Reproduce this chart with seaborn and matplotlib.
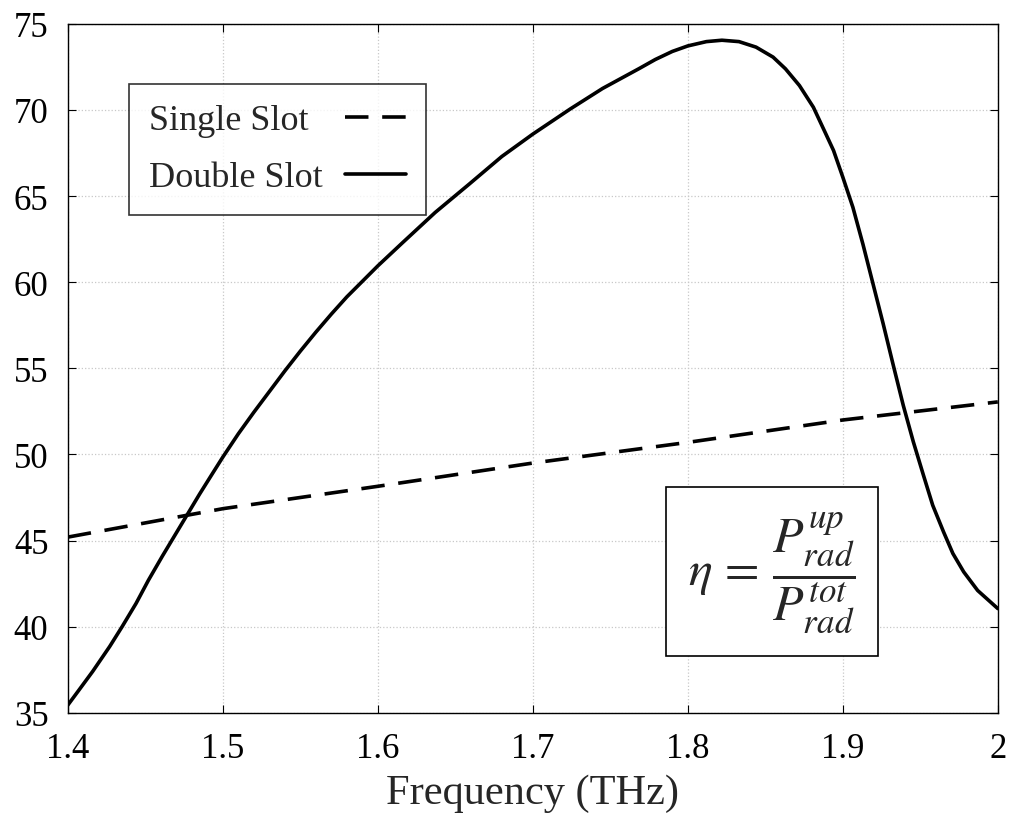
import numpy as np
import pandas as pd
import seaborn as sns
import matplotlib
matplotlib.use("Agg")
import matplotlib.pyplot as plt

# values
single_freq = [1.40, 1.50, 1.60, 1.70, 1.80, 1.90, 2.00]
single_eff = [45.2, 46.85, 48.15, 49.5, 50.7, 52.0, 53.05]

double_freq = [1.400, 1.407, 1.416, 1.427, 1.435, 1.444, 1.452, 1.461, 1.470,
               1.477, 1.485, 1.493, 1.500, 1.510, 1.520, 1.530, 1.540, 1.550,
               1.560, 1.570, 1.580, 1.590, 1.600, 1.616, 1.637, 1.659, 1.680,
               1.700, 1.724, 1.745, 1.7685, 1.779, 1.790, 1.800, 1.812, 1.822,
               1.833, 1.844, 1.855, 1.863, 1.872, 1.881, 1.889, 1.894, 1.900,
               1.9065, 1.913, 1.9195, 1.926, 1.9325, 1.939, 1.9455, 1.952,
               1.958, 1.965, 1.971, 1.978, 1.987, 2.000]
double_eff = [35.45, 36.3, 37.4, 38.85, 40.0, 41.35, 42.7, 44.1, 45.45,
              46.5, 47.7, 48.85, 49.85, 51.2, 52.45, 53.65, 54.85, 56.0,
              57.1, 58.15, 59.15, 60.05, 60.95, 62.3, 64.05, 65.7, 67.3,
              68.6, 70.05, 71.25, 72.4, 72.93, 73.4, 73.72, 73.97, 74.05,
              73.97, 73.65, 73.07, 72.39, 71.42, 70.16, 68.62, 67.65, 66.1,
              64.35, 62.2, 59.9, 57.6, 55.2, 52.85, 50.73, 48.8,
              47.05, 45.5, 44.25, 43.18, 42.1, 41.05]

x_ticks = [1.4, 1.5, 1.6, 1.7, 1.8, 1.9, 2.0]
x_tick_labels = ["1.4", "1.5", "1.6", "1.7", "1.8", "1.9", "2"]
y_ticks = [35, 40, 45, 50, 55, 60, 65, 70, 75]

single = pd.DataFrame({"freq": single_freq, "eff": single_eff})
double = pd.DataFrame({"freq": double_freq, "eff": double_eff})

sns.set_style("ticks")
plt.rcParams["font.family"] = ["Liberation Serif", "DejaVu Serif"]
plt.rcParams["mathtext.fontset"] = "stix"

fig = plt.figure(figsize=(10.13, 8.29), dpi=100)
ax = fig.add_axes([0.067, 0.139, 0.918, 0.831])

sns.lineplot(data=single, x="freq", y="eff", ax=ax, color="black", lw=2.6,
             label="Single Slot")
ax.lines[-1].set_dashes((6.5, 3.8))
sns.lineplot(data=double, x="freq", y="eff", ax=ax, color="black", lw=2.6,
             label="Double Slot")

ax.set_xlim(1.4, 2.0)
ax.set_ylim(35, 75)
ax.set_xticks(x_ticks)
ax.set_xticklabels(x_tick_labels)
ax.set_yticks(y_ticks)
ax.tick_params(direction="in", top=True, right=True, length=6, width=0.8,
               labelsize=25, colors="black")
ax.tick_params(axis="x", pad=14)
ax.tick_params(axis="y", pad=14)
ax.grid(True, color="#c8c8c8", linestyle=":", linewidth=0.9)
for s in ax.spines.values():
    s.set_linewidth(1.0)
    s.set_color("black")

ax.set_xlabel("Frequency (THz)", fontsize=30.5, labelpad=6)
ax.set_ylabel("")

leg = ax.legend(loc="upper left", bbox_to_anchor=(0.0656, 0.913), markerfirst=False,
                fontsize=26, frameon=True, fancybox=False, handlelength=1.7,
                handletextpad=0.6, borderpad=0.56, labelspacing=0.66, borderaxespad=0)
leg.get_frame().set_edgecolor("black")
leg.get_frame().set_linewidth(1.2)

# text left, handle right, like the reference legend
fig.canvas.draw()
rend = fig.canvas.get_renderer()
rows = leg._legend_handle_box.get_children()[0].get_children()
row_w = max(r.get_bbox(rend).width for r in rows)
for r in rows:
    r.mode = "expand"
    r.width = row_w

ax.text(0.757, 0.205, r"$\eta\,=\,\dfrac{P_{rad}^{up}}{P_{rad}^{tot}}$",
        transform=ax.transAxes, fontsize=36, ha="center", va="center",
        bbox=dict(boxstyle="square,pad=0.44", facecolor="white",
                  edgecolor="black", linewidth=1.2))

fig.savefig("out.png", dpi=100)
